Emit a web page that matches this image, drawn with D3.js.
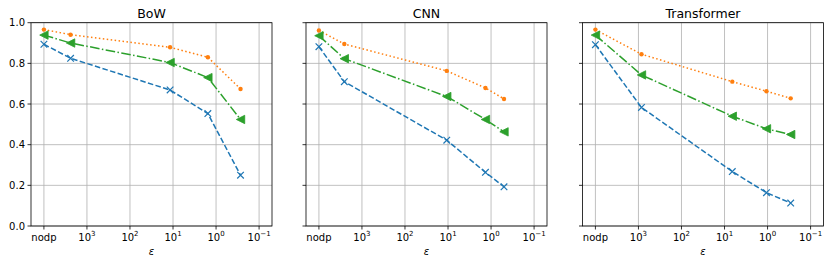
<!DOCTYPE html>
<html><head><meta charset="utf-8">
<script src="https://cdn.jsdelivr.net/npm/d3@7"></script>
<style>body{margin:0;background:#fff}svg{display:block}text{font-family:"DejaVu Sans",sans-serif;fill:#000}</style>
</head><body>
<script>
// ---- data ----
const panelTitles = ["BoW", "CNN", "Transformer"];
const seriesNames = ["blue-x", "orange-dot", "green-tri"];
// epsilon positions (nodp plotted at 1e4)
const epsBoW = [1e4, 2400, 11.7, 1.55, 0.27];
const epsCNN = [1e4, 2570, 10.7, 1.35, 0.50];
const epsTransformer = [1e4, 850, 6.6, 1.06, 0.29];
const bowBlue = [0.894, 0.825, 0.669, 0.553, 0.250];
const bowOrange = [0.966, 0.941, 0.879, 0.830, 0.674];
const bowGreen = [0.939, 0.900, 0.804, 0.730, 0.524];
const cnnBlue = [0.882, 0.710, 0.422, 0.264, 0.193];
const cnnOrange = [0.962, 0.895, 0.763, 0.679, 0.625];
const cnnGreen = [0.936, 0.823, 0.637, 0.524, 0.463];
const trBlue = [0.892, 0.583, 0.268, 0.164, 0.113];
const trOrange = [0.966, 0.845, 0.710, 0.663, 0.628];
const trGreen = [0.939, 0.743, 0.540, 0.478, 0.450];
const xTickValues = [1e4, 1e3, 1e2, 1e1, 1e0, 1e-1];
const xTickLabels = [["nodp", ""], ["10", "3"], ["10", "2"], ["10", "1"], ["10", "0"], ["10", "\u22121"]];
const yTickValues = [0.0, 0.2, 0.4, 0.6, 0.8, 1.0];
const yTickLabels = ["0.0", "0.2", "0.4", "0.6", "0.8", "1.0"];
const xLabel = "ε";

const panels = [
  {title: panelTitles[0], eps: epsBoW, series: [bowBlue, bowOrange, bowGreen]},
  {title: panelTitles[1], eps: epsCNN, series: [cnnBlue, cnnOrange, cnnGreen]},
  {title: panelTitles[2], eps: epsTransformer, series: [trBlue, trOrange, trGreen]}
];

// ---- styles ----
const colors = ["#1f77b4", "#ff7f0e", "#2ca02c"];
const dashes = ["5.55,2.4", "1.5,2.475", "9.6,2.4,1.5,2.4"];
const W = 831, H = 267;
const lefts = [31, 306, 582.5], pw = 241, plotTop = 22.7, plotBottom = 226;

const svg = d3.select("body").append("svg").attr("width", W).attr("height", H);
svg.append("rect").attr("width", W).attr("height", H).attr("fill", "#fff");

const y = d3.scaleLinear().domain([0, 1]).range([plotBottom, plotTop]);

panels.forEach((p, pi) => {
  const L = lefts[pi];
  const x = d3.scaleLog().domain([Math.pow(10, 4.3), Math.pow(10, -1.3)]).range([L, L + pw]);
  const g = svg.append("g");

  // grid
  g.selectAll(".gx").data(xTickValues).enter().append("line")
    .attr("x1", d => x(d)).attr("x2", d => x(d)).attr("y1", plotTop).attr("y2", plotBottom)
    .attr("stroke", "#b0b0b0").attr("stroke-width", 0.8);
  g.selectAll(".gy").data(yTickValues).enter().append("line")
    .attr("x1", L).attr("x2", L + pw).attr("y1", d => y(d)).attr("y2", d => y(d))
    .attr("stroke", "#b0b0b0").attr("stroke-width", 0.8);

  // series
  p.series.forEach((vals, si) => {
    const pts = vals.map((v, i) => [x(p.eps[i]), y(v)]);
    g.append("path").attr("d", d3.line()(pts)).attr("fill", "none")
      .attr("stroke", colors[si]).attr("stroke-width", 1.5)
      .attr("stroke-dasharray", dashes[si]);
    pts.forEach(([px, py]) => {
      if (si === 0) {
        const s = 3.3;
        g.append("path").attr("d", `M${px - s},${py - s}L${px + s},${py + s}M${px - s},${py + s}L${px + s},${py - s}`)
          .attr("stroke", colors[si]).attr("stroke-width", 1.2).attr("fill", "none");
      } else if (si === 1) {
        g.append("circle").attr("cx", px).attr("cy", py).attr("r", 2.2).attr("fill", colors[si]);
      } else {
        const s = 4.2;
        g.append("path").attr("d", `M${px - s},${py}L${px + s},${py - s}L${px + s},${py + s}Z`)
          .attr("fill", colors[si]).attr("stroke", colors[si]).attr("stroke-width", 0.8);
      }
    });
  });

  // spines
  g.append("rect").attr("x", L).attr("y", plotTop).attr("width", pw).attr("height", plotBottom - plotTop)
    .attr("fill", "none").attr("stroke", "#000").attr("stroke-width", 0.8);

  // x ticks
  xTickValues.forEach((v, i) => {
    const tx = x(v);
    g.append("line").attr("x1", tx).attr("x2", tx).attr("y1", plotBottom).attr("y2", plotBottom + 3.5)
      .attr("stroke", "#000").attr("stroke-width", 0.8);
    const t = g.append("text").attr("x", tx).attr("y", plotBottom + 14.5).attr("text-anchor", "middle")
      .attr("font-size", 10);
    t.append("tspan").text(xTickLabels[i][0]);
    if (xTickLabels[i][1]) {
      t.append("tspan").attr("dy", -4.5).attr("font-size", 7).text(xTickLabels[i][1]);
    }
  });
  // y ticks
  yTickValues.forEach((v, i) => {
    const ty = y(v);
    g.append("line").attr("x1", L - 3.5).attr("x2", L).attr("y1", ty).attr("y2", ty)
      .attr("stroke", "#000").attr("stroke-width", 0.8);
    if (pi === 0) {
      g.append("text").attr("x", L - 6).attr("y", ty + 3.6).attr("text-anchor", "end")
        .attr("font-size", 10).text(yTickLabels[i]);
    }
  });

  // title + xlabel
  g.append("text").attr("x", L + pw / 2).attr("y", 18).attr("text-anchor", "middle")
    .attr("font-size", 12.5).text(p.title);
  g.append("text").attr("x", L + pw / 2).attr("y", 255).attr("text-anchor", "middle")
    .attr("font-size", 10).attr("font-style", "italic").text(xLabel);
});
</script>
</body></html>
